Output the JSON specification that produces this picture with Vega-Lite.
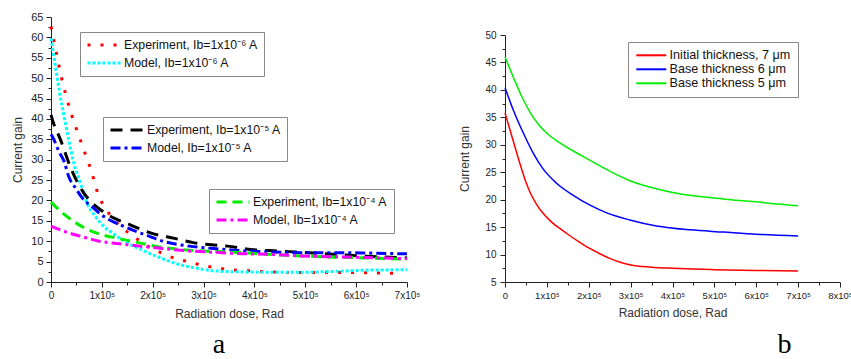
{
  "$schema": "https://vega.github.io/schema/vega-lite/v6.json",
  "padding": {"left": 11, "top": 11, "right": 0, "bottom": 0},
  "spacing": 38,
  "resolve": {
    "scale": {"color": "independent", "strokeDash": "independent"},
    "legend": {"color": "independent", "strokeDash": "independent"}
  },
  "config": {
    "view": {"stroke": null},
    "font": "Liberation Sans",
    "axis": {
      "grid": false,
      "domainColor": "#222",
      "tickColor": "#222",
      "labelColor": "#222",
      "titleColor": "#333",
      "titleFont": "Liberation Sans",
      "labelFont": "Liberation Sans",
      "titleFontWeight": "normal",
      "titleFontSize": 12,
      "labelOverlap": false,
      "labelFlush": false
    },
    "legend": {
      "orient": "none",
      "title": null,
      "strokeColor": "#888",
      "padding": 6,
      "symbolType": "M-1,0H5",
      "symbolSize": 121,
      "symbolStrokeWidth": 3,
      "symbolFillColor": "transparent",
      "labelFontSize": 12.3,
      "labelFont": "Liberation Sans",
      "labelColor": "#111",
      "rowPadding": 4,
      "labelOffset": 24
    }
  },
  "datasets": {
    "g6": [
      {"s": "Experiment, Ib=1x10⁻⁶ A", "x": 0, "y": 62.7},
      {"s": "Experiment, Ib=1x10⁻⁶ A", "x": 10000, "y": 56.5},
      {"s": "Experiment, Ib=1x10⁻⁶ A", "x": 20000, "y": 50.5},
      {"s": "Experiment, Ib=1x10⁻⁶ A", "x": 30000, "y": 45.5},
      {"s": "Experiment, Ib=1x10⁻⁶ A", "x": 40000, "y": 41.2},
      {"s": "Experiment, Ib=1x10⁻⁶ A", "x": 50000, "y": 37.5},
      {"s": "Experiment, Ib=1x10⁻⁶ A", "x": 60000, "y": 34.0},
      {"s": "Experiment, Ib=1x10⁻⁶ A", "x": 70000, "y": 30.5},
      {"s": "Experiment, Ib=1x10⁻⁶ A", "x": 80000, "y": 27.0},
      {"s": "Experiment, Ib=1x10⁻⁶ A", "x": 90000, "y": 22.5},
      {"s": "Experiment, Ib=1x10⁻⁶ A", "x": 100000, "y": 19.5},
      {"s": "Experiment, Ib=1x10⁻⁶ A", "x": 110000, "y": 17.5},
      {"s": "Experiment, Ib=1x10⁻⁶ A", "x": 131000, "y": 14.3},
      {"s": "Experiment, Ib=1x10⁻⁶ A", "x": 162000, "y": 11.2},
      {"s": "Experiment, Ib=1x10⁻⁶ A", "x": 190000, "y": 8.8},
      {"s": "Experiment, Ib=1x10⁻⁶ A", "x": 216000, "y": 7.2},
      {"s": "Experiment, Ib=1x10⁻⁶ A", "x": 246000, "y": 5.7},
      {"s": "Experiment, Ib=1x10⁻⁶ A", "x": 273000, "y": 4.9},
      {"s": "Experiment, Ib=1x10⁻⁶ A", "x": 300000, "y": 4.0},
      {"s": "Experiment, Ib=1x10⁻⁶ A", "x": 330000, "y": 3.4},
      {"s": "Experiment, Ib=1x10⁻⁶ A", "x": 356000, "y": 3.0},
      {"s": "Experiment, Ib=1x10⁻⁶ A", "x": 383000, "y": 2.8},
      {"s": "Experiment, Ib=1x10⁻⁶ A", "x": 410000, "y": 2.6},
      {"s": "Experiment, Ib=1x10⁻⁶ A", "x": 450000, "y": 2.4},
      {"s": "Experiment, Ib=1x10⁻⁶ A", "x": 500000, "y": 2.3},
      {"s": "Experiment, Ib=1x10⁻⁶ A", "x": 550000, "y": 2.3},
      {"s": "Experiment, Ib=1x10⁻⁶ A", "x": 600000, "y": 2.3},
      {"s": "Experiment, Ib=1x10⁻⁶ A", "x": 650000, "y": 2.2},
      {"s": "Experiment, Ib=1x10⁻⁶ A", "x": 690000, "y": 2.1},
      {"s": "Model, Ib=1x10⁻⁶ A", "x": 0, "y": 59.8},
      {"s": "Model, Ib=1x10⁻⁶ A", "x": 8000, "y": 53.5},
      {"s": "Model, Ib=1x10⁻⁶ A", "x": 16000, "y": 47.1},
      {"s": "Model, Ib=1x10⁻⁶ A", "x": 26000, "y": 40.5},
      {"s": "Model, Ib=1x10⁻⁶ A", "x": 35000, "y": 34.8},
      {"s": "Model, Ib=1x10⁻⁶ A", "x": 45000, "y": 29.1},
      {"s": "Model, Ib=1x10⁻⁶ A", "x": 58000, "y": 24.2},
      {"s": "Model, Ib=1x10⁻⁶ A", "x": 71000, "y": 19.3},
      {"s": "Model, Ib=1x10⁻⁶ A", "x": 88000, "y": 16.0},
      {"s": "Model, Ib=1x10⁻⁶ A", "x": 105000, "y": 13.5},
      {"s": "Model, Ib=1x10⁻⁶ A", "x": 121000, "y": 12.0},
      {"s": "Model, Ib=1x10⁻⁶ A", "x": 147000, "y": 9.8},
      {"s": "Model, Ib=1x10⁻⁶ A", "x": 180000, "y": 7.8},
      {"s": "Model, Ib=1x10⁻⁶ A", "x": 220000, "y": 5.7},
      {"s": "Model, Ib=1x10⁻⁶ A", "x": 252000, "y": 4.3},
      {"s": "Model, Ib=1x10⁻⁶ A", "x": 282000, "y": 3.5},
      {"s": "Model, Ib=1x10⁻⁶ A", "x": 310000, "y": 2.9},
      {"s": "Model, Ib=1x10⁻⁶ A", "x": 340000, "y": 2.6},
      {"s": "Model, Ib=1x10⁻⁶ A", "x": 370000, "y": 2.5},
      {"s": "Model, Ib=1x10⁻⁶ A", "x": 425000, "y": 2.4},
      {"s": "Model, Ib=1x10⁻⁶ A", "x": 492000, "y": 2.4},
      {"s": "Model, Ib=1x10⁻⁶ A", "x": 557000, "y": 2.6},
      {"s": "Model, Ib=1x10⁻⁶ A", "x": 620000, "y": 2.9},
      {"s": "Model, Ib=1x10⁻⁶ A", "x": 700000, "y": 3.0}
    ],
    "g5": [
      {"s": "Experiment, Ib=1x10⁻⁵ A", "x": 0, "y": 41.0},
      {"s": "Experiment, Ib=1x10⁻⁵ A", "x": 3000, "y": 39.7},
      {"s": "Experiment, Ib=1x10⁻⁵ A", "x": 19000, "y": 34.8},
      {"s": "Experiment, Ib=1x10⁻⁵ A", "x": 39000, "y": 27.9},
      {"s": "Experiment, Ib=1x10⁻⁵ A", "x": 62000, "y": 22.3},
      {"s": "Experiment, Ib=1x10⁻⁵ A", "x": 80000, "y": 19.5},
      {"s": "Experiment, Ib=1x10⁻⁵ A", "x": 101000, "y": 17.4},
      {"s": "Experiment, Ib=1x10⁻⁵ A", "x": 125000, "y": 15.6},
      {"s": "Experiment, Ib=1x10⁻⁵ A", "x": 151000, "y": 14.3},
      {"s": "Experiment, Ib=1x10⁻⁵ A", "x": 175000, "y": 13.0},
      {"s": "Experiment, Ib=1x10⁻⁵ A", "x": 197000, "y": 12.0},
      {"s": "Experiment, Ib=1x10⁻⁵ A", "x": 243000, "y": 10.7},
      {"s": "Experiment, Ib=1x10⁻⁵ A", "x": 282000, "y": 9.6},
      {"s": "Experiment, Ib=1x10⁻⁵ A", "x": 320000, "y": 9.1},
      {"s": "Experiment, Ib=1x10⁻⁵ A", "x": 347000, "y": 8.8},
      {"s": "Experiment, Ib=1x10⁻⁵ A", "x": 393000, "y": 8.0},
      {"s": "Experiment, Ib=1x10⁻⁵ A", "x": 446000, "y": 7.6},
      {"s": "Experiment, Ib=1x10⁻⁵ A", "x": 492000, "y": 7.3},
      {"s": "Experiment, Ib=1x10⁻⁵ A", "x": 557000, "y": 6.8},
      {"s": "Experiment, Ib=1x10⁻⁵ A", "x": 622000, "y": 6.3},
      {"s": "Experiment, Ib=1x10⁻⁵ A", "x": 700000, "y": 5.9},
      {"s": "Model, Ib=1x10⁻⁵ A", "x": 0, "y": 36.2},
      {"s": "Model, Ib=1x10⁻⁵ A", "x": 3000, "y": 35.6},
      {"s": "Model, Ib=1x10⁻⁵ A", "x": 16000, "y": 31.9},
      {"s": "Model, Ib=1x10⁻⁵ A", "x": 26000, "y": 29.5},
      {"s": "Model, Ib=1x10⁻⁵ A", "x": 35000, "y": 25.8},
      {"s": "Model, Ib=1x10⁻⁵ A", "x": 49000, "y": 22.9},
      {"s": "Model, Ib=1x10⁻⁵ A", "x": 62000, "y": 20.5},
      {"s": "Model, Ib=1x10⁻⁵ A", "x": 81000, "y": 18.4},
      {"s": "Model, Ib=1x10⁻⁵ A", "x": 98000, "y": 16.6},
      {"s": "Model, Ib=1x10⁻⁵ A", "x": 111000, "y": 15.5},
      {"s": "Model, Ib=1x10⁻⁵ A", "x": 131000, "y": 14.3},
      {"s": "Model, Ib=1x10⁻⁵ A", "x": 161000, "y": 12.7},
      {"s": "Model, Ib=1x10⁻⁵ A", "x": 187000, "y": 11.5},
      {"s": "Model, Ib=1x10⁻⁵ A", "x": 220000, "y": 10.0},
      {"s": "Model, Ib=1x10⁻⁵ A", "x": 272000, "y": 8.8},
      {"s": "Model, Ib=1x10⁻⁵ A", "x": 320000, "y": 8.2},
      {"s": "Model, Ib=1x10⁻⁵ A", "x": 360000, "y": 7.8},
      {"s": "Model, Ib=1x10⁻⁵ A", "x": 426000, "y": 7.4},
      {"s": "Model, Ib=1x10⁻⁵ A", "x": 492000, "y": 7.2},
      {"s": "Model, Ib=1x10⁻⁵ A", "x": 557000, "y": 7.2},
      {"s": "Model, Ib=1x10⁻⁵ A", "x": 622000, "y": 7.1},
      {"s": "Model, Ib=1x10⁻⁵ A", "x": 700000, "y": 6.9}
    ],
    "g4": [
      {"s": "Experiment, Ib=1x10⁻⁴ A", "x": 0, "y": 19.6},
      {"s": "Experiment, Ib=1x10⁻⁴ A", "x": 20000, "y": 17.2},
      {"s": "Experiment, Ib=1x10⁻⁴ A", "x": 43000, "y": 15.0},
      {"s": "Experiment, Ib=1x10⁻⁴ A", "x": 75000, "y": 12.7},
      {"s": "Experiment, Ib=1x10⁻⁴ A", "x": 102000, "y": 11.5},
      {"s": "Experiment, Ib=1x10⁻⁴ A", "x": 128000, "y": 10.8},
      {"s": "Experiment, Ib=1x10⁻⁴ A", "x": 174000, "y": 9.6},
      {"s": "Experiment, Ib=1x10⁻⁴ A", "x": 213000, "y": 8.6},
      {"s": "Experiment, Ib=1x10⁻⁴ A", "x": 272000, "y": 7.8},
      {"s": "Experiment, Ib=1x10⁻⁴ A", "x": 320000, "y": 7.5},
      {"s": "Experiment, Ib=1x10⁻⁴ A", "x": 360000, "y": 7.3},
      {"s": "Experiment, Ib=1x10⁻⁴ A", "x": 426000, "y": 6.8},
      {"s": "Experiment, Ib=1x10⁻⁴ A", "x": 492000, "y": 6.4},
      {"s": "Experiment, Ib=1x10⁻⁴ A", "x": 557000, "y": 6.1},
      {"s": "Experiment, Ib=1x10⁻⁴ A", "x": 622000, "y": 5.9},
      {"s": "Experiment, Ib=1x10⁻⁴ A", "x": 700000, "y": 5.6},
      {"s": "Model, Ib=1x10⁻⁴ A", "x": 0, "y": 13.7},
      {"s": "Model, Ib=1x10⁻⁴ A", "x": 29000, "y": 12.3},
      {"s": "Model, Ib=1x10⁻⁴ A", "x": 62000, "y": 11.1},
      {"s": "Model, Ib=1x10⁻⁴ A", "x": 95000, "y": 10.0},
      {"s": "Model, Ib=1x10⁻⁴ A", "x": 134000, "y": 9.4},
      {"s": "Model, Ib=1x10⁻⁴ A", "x": 174000, "y": 8.8},
      {"s": "Model, Ib=1x10⁻⁴ A", "x": 220000, "y": 8.2},
      {"s": "Model, Ib=1x10⁻⁴ A", "x": 272000, "y": 7.6},
      {"s": "Model, Ib=1x10⁻⁴ A", "x": 320000, "y": 7.3},
      {"s": "Model, Ib=1x10⁻⁴ A", "x": 360000, "y": 7.0},
      {"s": "Model, Ib=1x10⁻⁴ A", "x": 426000, "y": 6.8},
      {"s": "Model, Ib=1x10⁻⁴ A", "x": 492000, "y": 6.4},
      {"s": "Model, Ib=1x10⁻⁴ A", "x": 557000, "y": 6.2},
      {"s": "Model, Ib=1x10⁻⁴ A", "x": 622000, "y": 6.0},
      {"s": "Model, Ib=1x10⁻⁴ A", "x": 700000, "y": 5.7}
    ],
    "thick": [
      {"s": "Initial thickness, 7 μm", "x": 0, "y": 35.8},
      {"s": "Initial thickness, 7 μm", "x": 10000, "y": 33.2},
      {"s": "Initial thickness, 7 μm", "x": 20000, "y": 30.6},
      {"s": "Initial thickness, 7 μm", "x": 30000, "y": 28.0},
      {"s": "Initial thickness, 7 μm", "x": 40000, "y": 25.5},
      {"s": "Initial thickness, 7 μm", "x": 50000, "y": 23.2},
      {"s": "Initial thickness, 7 μm", "x": 60000, "y": 21.3},
      {"s": "Initial thickness, 7 μm", "x": 75000, "y": 19.2},
      {"s": "Initial thickness, 7 μm", "x": 90000, "y": 17.6},
      {"s": "Initial thickness, 7 μm", "x": 110000, "y": 16.0},
      {"s": "Initial thickness, 7 μm", "x": 130000, "y": 14.8},
      {"s": "Initial thickness, 7 μm", "x": 150000, "y": 13.7},
      {"s": "Initial thickness, 7 μm", "x": 175000, "y": 12.4},
      {"s": "Initial thickness, 7 μm", "x": 200000, "y": 11.2},
      {"s": "Initial thickness, 7 μm", "x": 225000, "y": 10.2},
      {"s": "Initial thickness, 7 μm", "x": 250000, "y": 9.3},
      {"s": "Initial thickness, 7 μm", "x": 275000, "y": 8.6},
      {"s": "Initial thickness, 7 μm", "x": 300000, "y": 8.1},
      {"s": "Initial thickness, 7 μm", "x": 350000, "y": 7.7},
      {"s": "Initial thickness, 7 μm", "x": 400000, "y": 7.5},
      {"s": "Initial thickness, 7 μm", "x": 450000, "y": 7.35},
      {"s": "Initial thickness, 7 μm", "x": 500000, "y": 7.25},
      {"s": "Initial thickness, 7 μm", "x": 600000, "y": 7.1},
      {"s": "Initial thickness, 7 μm", "x": 700000, "y": 7.0},
      {"s": "Base thickness 6 μm", "x": 0, "y": 40.4},
      {"s": "Base thickness 6 μm", "x": 20000, "y": 36.3},
      {"s": "Base thickness 6 μm", "x": 44000, "y": 32.1},
      {"s": "Base thickness 6 μm", "x": 68000, "y": 28.4},
      {"s": "Base thickness 6 μm", "x": 91000, "y": 25.6},
      {"s": "Base thickness 6 μm", "x": 123000, "y": 23.0},
      {"s": "Base thickness 6 μm", "x": 163000, "y": 20.8},
      {"s": "Base thickness 6 μm", "x": 203000, "y": 19.0},
      {"s": "Base thickness 6 μm", "x": 243000, "y": 17.6},
      {"s": "Base thickness 6 μm", "x": 298000, "y": 16.3},
      {"s": "Base thickness 6 μm", "x": 362000, "y": 15.2},
      {"s": "Base thickness 6 μm", "x": 442000, "y": 14.5},
      {"s": "Base thickness 6 μm", "x": 521000, "y": 14.1},
      {"s": "Base thickness 6 μm", "x": 601000, "y": 13.7},
      {"s": "Base thickness 6 μm", "x": 700000, "y": 13.4},
      {"s": "Base thickness 5 μm", "x": 0, "y": 46.0},
      {"s": "Base thickness 5 μm", "x": 20000, "y": 42.3},
      {"s": "Base thickness 5 μm", "x": 40000, "y": 38.8},
      {"s": "Base thickness 5 μm", "x": 60000, "y": 35.9},
      {"s": "Base thickness 5 μm", "x": 80000, "y": 33.7},
      {"s": "Base thickness 5 μm", "x": 100000, "y": 32.1},
      {"s": "Base thickness 5 μm", "x": 130000, "y": 30.4},
      {"s": "Base thickness 5 μm", "x": 160000, "y": 29.0},
      {"s": "Base thickness 5 μm", "x": 200000, "y": 27.3},
      {"s": "Base thickness 5 μm", "x": 250000, "y": 25.2},
      {"s": "Base thickness 5 μm", "x": 300000, "y": 23.4},
      {"s": "Base thickness 5 μm", "x": 350000, "y": 22.2},
      {"s": "Base thickness 5 μm", "x": 400000, "y": 21.3},
      {"s": "Base thickness 5 μm", "x": 450000, "y": 20.7},
      {"s": "Base thickness 5 μm", "x": 500000, "y": 20.3},
      {"s": "Base thickness 5 μm", "x": 550000, "y": 19.9},
      {"s": "Base thickness 5 μm", "x": 600000, "y": 19.6},
      {"s": "Base thickness 5 μm", "x": 650000, "y": 19.2},
      {"s": "Base thickness 5 μm", "x": 700000, "y": 18.9}
    ]
  },
  "hconcat": [
    {
      "width": 356,
      "height": 265,
      "title": {"text": "a", "orient": "bottom", "font": "Liberation Serif", "fontSize": 28, "fontWeight": "normal", "color": "#000", "dx": -10, "offset": 12},
      "encoding": {
        "x": {
          "field": "x", "type": "quantitative",
          "scale": {"domain": [0, 700000], "nice": false, "zero": false},
          "axis": {
            "title": "Radiation dose, Rad",
            "values": [0, 50000, 100000, 150000, 200000, 250000, 300000, 350000, 400000, 450000, 500000, 550000, 600000, 650000, 700000],
            "labelExpr": "datum.value % 100000 == 0 ? (datum.value == 0 ? '0' : (datum.value / 100000) + 'x10⁵') : ''",
            "tickSize": {"condition": {"test": "datum.value % 100000 == 0", "value": 5}, "value": 3},
            "labelFontSize": 10,
            "labelPadding": 3,
            "titlePadding": 8
          }
        },
        "y": {
          "field": "y", "type": "quantitative",
          "scale": {"domain": [0, 65], "nice": false},
          "axis": {
            "title": "Current gain",
            "values": [0, 2.5, 5, 7.5, 10, 12.5, 15, 17.5, 20, 22.5, 25, 27.5, 30, 32.5, 35, 37.5, 40, 42.5, 45, 47.5, 50, 52.5, 55, 57.5, 60, 62.5, 65],
            "labelExpr": "datum.value % 5 == 0 ? format(datum.value, 'd') : ''",
            "tickSize": {"condition": {"test": "datum.value % 5 == 0", "value": 5}, "value": 3},
            "labelFontSize": 11,
            "labelPadding": 3,
            "titlePadding": 6
          }
        }
      },
      "layer": [
        {
          "data": {"name": "g6"},
          "mark": {"type": "line", "interpolate": "monotone", "strokeWidth": 3},
          "encoding": {
            "color": {"field": "s", "type": "nominal",
              "scale": {"domain": ["Experiment, Ib=1x10⁻⁶ A", "Model, Ib=1x10⁻⁶ A"], "range": ["#ff0000", "#00ffff"]},
              "legend": {"legendX": 29, "legendY": 15}},
            "strokeDash": {"field": "s", "type": "nominal",
              "scale": {"domain": ["Experiment, Ib=1x10⁻⁶ A", "Model, Ib=1x10⁻⁶ A"], "range": [[3, 10], [3, 2]]},
              "legend": {"legendX": 29, "legendY": 15}}
          }
        },
        {
          "data": {"name": "g5"},
          "mark": {"type": "line", "interpolate": "monotone", "strokeWidth": 3},
          "encoding": {
            "color": {"field": "s", "type": "nominal",
              "scale": {"domain": ["Experiment, Ib=1x10⁻⁵ A", "Model, Ib=1x10⁻⁵ A"], "range": ["#000000", "#0000ff"]},
              "legend": {"legendX": 52, "legendY": 100}},
            "strokeDash": {"field": "s", "type": "nominal",
              "scale": {"domain": ["Experiment, Ib=1x10⁻⁵ A", "Model, Ib=1x10⁻⁵ A"], "range": [[12, 8], [10, 4, 3, 4]]},
              "legend": {"legendX": 52, "legendY": 100}}
          }
        },
        {
          "data": {"name": "g4"},
          "mark": {"type": "line", "interpolate": "monotone", "strokeWidth": 3},
          "encoding": {
            "color": {"field": "s", "type": "nominal",
              "scale": {"domain": ["Experiment, Ib=1x10⁻⁴ A", "Model, Ib=1x10⁻⁴ A"], "range": ["#00ee00", "#ff00ff"]},
              "legend": {"legendX": 158, "legendY": 172}},
            "strokeDash": {"field": "s", "type": "nominal",
              "scale": {"domain": ["Experiment, Ib=1x10⁻⁴ A", "Model, Ib=1x10⁻⁴ A"], "range": [[10, 6], [10, 4, 3, 4]]},
              "legend": {"legendX": 158, "legendY": 172}}
          }
        }
      ],
      "resolve": {"scale": {"color": "independent", "strokeDash": "independent"}}
    },
    {
      "width": 335,
      "height": 265,
      "title": {"text": "b", "orient": "bottom", "font": "Liberation Serif", "fontSize": 28, "fontWeight": "normal", "color": "#000", "dx": 112, "offset": 12},
      "data": {"name": "thick"},
      "mark": {"type": "line", "interpolate": "monotone", "strokeWidth": 1.5},
      "encoding": {
        "x": {
          "field": "x", "type": "quantitative",
          "scale": {"domain": [0, 800000], "nice": false, "zero": false},
          "axis": {
            "title": "Radiation dose, Rad",
            "values": [0, 50000, 100000, 150000, 200000, 250000, 300000, 350000, 400000, 450000, 500000, 550000, 600000, 650000, 700000, 750000, 800000],
            "labelExpr": "datum.value % 100000 == 0 ? (datum.value == 0 ? '0' : (datum.value / 100000) + 'x10⁵') : ''",
            "tickSize": {"condition": {"test": "datum.value % 100000 == 0", "value": 5}, "value": 3},
            "labelFontSize": 9.5,
            "labelPadding": 3,
            "titlePadding": 8
          }
        },
        "y": {
          "field": "y", "type": "quantitative",
          "scale": {"domain": [5, 50], "nice": false, "zero": false, "range": [265, 18]},
          "axis": {
            "title": "Current gain",
            "values": [5, 7.5, 10, 12.5, 15, 17.5, 20, 22.5, 25, 27.5, 30, 32.5, 35, 37.5, 40, 42.5, 45, 47.5, 50],
            "labelExpr": "datum.value % 5 == 0 ? format(datum.value, 'd') : ''",
            "tickSize": {"condition": {"test": "datum.value % 5 == 0", "value": 5}, "value": 3},
            "labelFontSize": 10,
            "labelPadding": 4,
            "titlePadding": 13
          }
        },
        "color": {"field": "s", "type": "nominal",
          "scale": {"domain": ["Initial thickness, 7 μm", "Base thickness 6 μm", "Base thickness 5 μm"], "range": ["#ff0000", "#0000ff", "#00ee00"]},
          "legend": {"legendX": 123, "legendY": 25, "symbolSize": 100, "symbolStrokeWidth": 2, "rowPadding": 1, "padding": 7, "labelOffset": 22, "labelFontSize": 12.6}}
      }
    }
  ]
}
